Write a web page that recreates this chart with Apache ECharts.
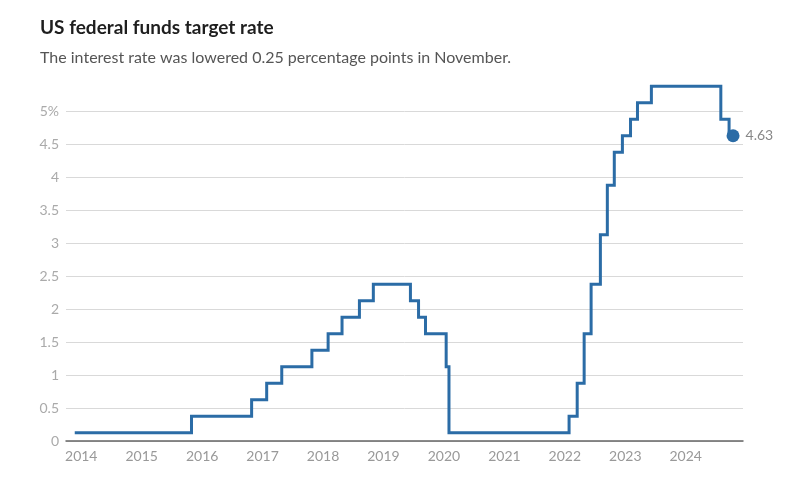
<!DOCTYPE html>
<html>
<head>
<meta charset="utf-8">
<script src="https://cdn.jsdelivr.net/npm/echarts@6/dist/echarts.min.js"></script>
<style>
html,body{margin:0;padding:0;background:#fff;}
#chart{width:800px;height:488px;}
</style>
</head>
<body>
<div id="chart"></div>
<script>
// Change dates and new target-rate midpoints (percent)
var changeDates = ["2014-01-10","2015-12-16","2016-12-14","2017-03-15","2017-06-14","2017-12-13",
  "2018-03-21","2018-06-13","2018-09-26","2018-12-19","2019-07-31","2019-09-18","2019-10-30",
  "2020-03-03","2020-03-20","2022-03-16","2022-05-04","2022-06-15","2022-07-27","2022-09-21",
  "2022-11-02","2022-12-14","2023-02-01","2023-03-22","2023-05-03","2023-07-26","2024-09-18",
  "2024-11-07","2024-12-01"];
var rates = [0.125,0.375,0.625,0.875,1.125,1.375,
  1.625,1.875,2.125,2.375,2.125,1.875,1.625,
  1.125,0.125,0.375,0.875,1.625,2.375,3.125,
  3.875,4.375,4.625,4.875,5.125,5.375,4.875,
  4.625,4.625];
var yearTicks = [2014,2015,2016,2017,2018,2019,2020,2021,2022,2023,2024];
var yTickLabels = {"0":"0","0.5":"0.5","1":"1","1.5":"1.5","2":"2","2.5":"2.5","3":"3","3.5":"3.5","4":"4","4.5":"4.5","5":"5%"};
var endLabel = "4.63";

function toYear(s){
  var p = s.split("-").map(Number);
  var start = Date.UTC(p[0],0,1), end = Date.UTC(p[0]+1,0,1);
  return p[0] + (Date.UTC(p[0],p[1]-1,p[2]) - start)/(end-start);
}

var FONT = 'Lato';
var data = changeDates.map(function(d,i){
  var item = {value:[toYear(d), rates[i]]};
  if(i === changeDates.length-1){
    item.symbol = 'circle';
    item.symbolSize = 13;
    item.itemStyle = {color:'#2b6ca6'};
    item.label = {show:true, position:'right', distance:6, formatter:endLabel,
      color:'#888', fontSize:14, fontFamily:FONT};
  }
  return item;
});

var chart = echarts.init(document.getElementById('chart'), null, {renderer:'canvas'});
chart.setOption({
  animation:false,
  backgroundColor:'#fff',
  textStyle:{fontFamily:FONT},
  title:[
    {text:'US federal funds target rate', left:35, top:13,
     textStyle:{fontSize:19, fontWeight:'bold', color:'#1e1e1e', fontFamily:FONT}},
    {text:'The interest rate was lowered 0.25 percentage points in November.', left:35, top:45,
     textStyle:{fontSize:16, fontWeight:'normal', color:'#555', fontFamily:FONT}}
  ],
  grid:{left:66, right:57, top:111, bottom:47, containLabel:false},
  xAxis:{
    type:'value', min:2013.88, max:2025.08,
    axisLine:{show:true, onZero:false, lineStyle:{color:'#666', width:1.5}},
    axisTick:{show:false},
    splitLine:{show:false},
    axisLabel:{customValues:yearTicks, color:'#999', fontSize:14, margin:8,
      padding:[0,0,0,16], fontFamily:FONT, formatter:function(v){return String(v);}}
  },
  yAxis:{
    type:'value', min:0, max:5, interval:0.5,
    axisLine:{show:false}, axisTick:{show:false},
    splitLine:{lineStyle:{color:'#d9d9d9', width:1}},
    axisLabel:{color:'#aaa', fontSize:14, margin:7, fontFamily:FONT,
      formatter:function(v){ var k=String(v); return yTickLabels[k]!==undefined?yTickLabels[k]:k; }}
  },
  series:[{
    type:'line', step:'end', clip:false,
    data:data,
    showSymbol:true, symbol:'none',
    lineStyle:{color:'#2b6ca6', width:3, join:'miter'},
    itemStyle:{color:'#2b6ca6'}
  }]
});
</script>
</body>
</html>
